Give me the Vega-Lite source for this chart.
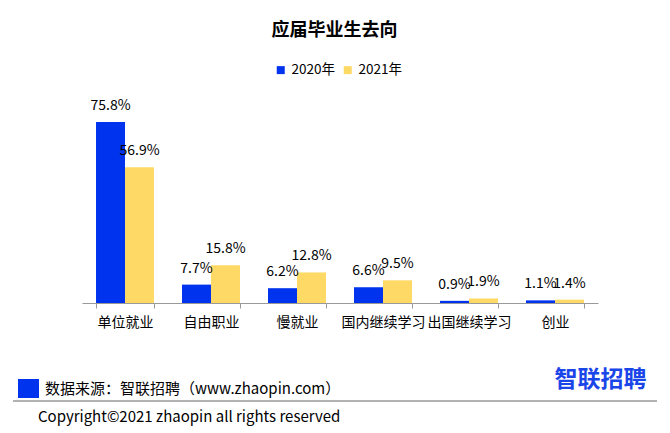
{
  "$schema": "https://vega.github.io/schema/vega-lite/v6.json",
  "autosize": {"type": "none"},
  "width": 516,
  "height": 191,
  "padding": {"left": 82, "top": 112, "right": 72, "bottom": 130},
  "background": "white",
  "config": {
    "font": "Noto Sans CJK SC",
    "view": {"stroke": null}
  },
  "data": {
    "values": [
      {"cat": "单位就业", "year": "2020年", "value": 0.758},
      {"cat": "单位就业", "year": "2021年", "value": 0.569},
      {"cat": "自由职业", "year": "2020年", "value": 0.077},
      {"cat": "自由职业", "year": "2021年", "value": 0.158},
      {"cat": "慢就业", "year": "2020年", "value": 0.062},
      {"cat": "慢就业", "year": "2021年", "value": 0.128},
      {"cat": "国内继续学习", "year": "2020年", "value": 0.066},
      {"cat": "国内继续学习", "year": "2021年", "value": 0.095},
      {"cat": "出国继续学习", "year": "2020年", "value": 0.009},
      {"cat": "出国继续学习", "year": "2021年", "value": 0.019},
      {"cat": "创业", "year": "2020年", "value": 0.011},
      {"cat": "创业", "year": "2021年", "value": 0.014}
    ]
  },
  "encoding": {
    "x": {
      "field": "cat",
      "type": "nominal",
      "sort": null,
      "scale": {"paddingInner": 0.326, "paddingOuter": 0.163},
      "axis": {
        "title": null,
        "labelAngle": 0,
        "labelFontSize": 14,
        "labelColor": "#000000",
        "labelPadding": 7,
        "domainColor": "#999999",
        "tickColor": "#999999",
        "tickSize": 5,
        "tickBand": "extent"
      }
    },
    "xOffset": {"field": "year", "type": "nominal", "sort": ["2020年", "2021年"], "scale": {"paddingInner": 0, "paddingOuter": 0}},
    "y": {
      "field": "value",
      "type": "quantitative",
      "scale": {"domain": [0, 0.8], "nice": false},
      "axis": null
    }
  },
  "layer": [
    {
      "mark": {"type": "bar"},
      "encoding": {
        "color": {
          "field": "year",
          "type": "nominal",
          "scale": {"domain": ["2020年", "2021年"], "range": ["#0033EE", "#FFD966"]},
          "legend": {
            "title": null,
            "orient": "none",
            "legendX": 192,
            "legendY": -49,
            "direction": "horizontal",
            "symbolType": "square",
            "symbolSize": 64,
            "symbolStrokeWidth": 0,
            "labelFontSize": 13.5,
            "labelColor": "#000000",
            "labelOffset": 4,
            "columnPadding": 6
          }
        }
      }
    },
    {
      "mark": {"type": "text", "fontSize": 14, "color": "#000000", "baseline": "alphabetic", "dy": -12},
      "encoding": {
        "text": {"field": "value", "type": "quantitative", "format": ".1%"}
      }
    },
    {
      "data": {"values": [{}]},
      "mark": {"type": "text", "text": "应届毕业生去向", "fontSize": 18, "fontWeight": "bold", "align": "center", "baseline": "middle", "color": "#000000"},
      "encoding": {"x": {"value": 252.5}, "y": {"value": -81}, "xOffset": null}
    },
    {
      "data": {"values": [{}]},
      "mark": {"type": "rect", "color": "#0033EE"},
      "encoding": {"x": {"value": -64}, "x2": {"value": -43}, "y": {"value": 267}, "y2": {"value": 286}, "xOffset": null}
    },
    {
      "data": {"values": [{}]},
      "mark": {"type": "text", "text": "数据来源：智联招聘（www.zhaopin.com）", "fontSize": 15, "align": "left", "baseline": "middle", "color": "#000000"},
      "encoding": {"x": {"value": -37}, "y": {"value": 277}, "xOffset": null}
    },
    {
      "data": {"values": [{}]},
      "mark": {"type": "text", "text": "智联招聘", "fontSize": 23, "fontWeight": "bold", "align": "center", "baseline": "middle", "color": "#1A45E8"},
      "encoding": {"x": {"value": 518.5}, "y": {"value": 268}, "xOffset": null}
    },
    {
      "data": {"values": [{}]},
      "mark": {"type": "rule", "color": "#999999", "strokeWidth": 1.5},
      "encoding": {"x": {"value": -69}, "x2": {"value": 575}, "y": {"value": 289}, "xOffset": null}
    },
    {
      "data": {"values": [{}]},
      "mark": {"type": "text", "text": "Copyright©2021 zhaopin all rights reserved", "fontSize": 15, "align": "left", "baseline": "middle", "color": "#000000"},
      "encoding": {"x": {"value": -44}, "y": {"value": 305}, "xOffset": null}
    }
  ]
}
